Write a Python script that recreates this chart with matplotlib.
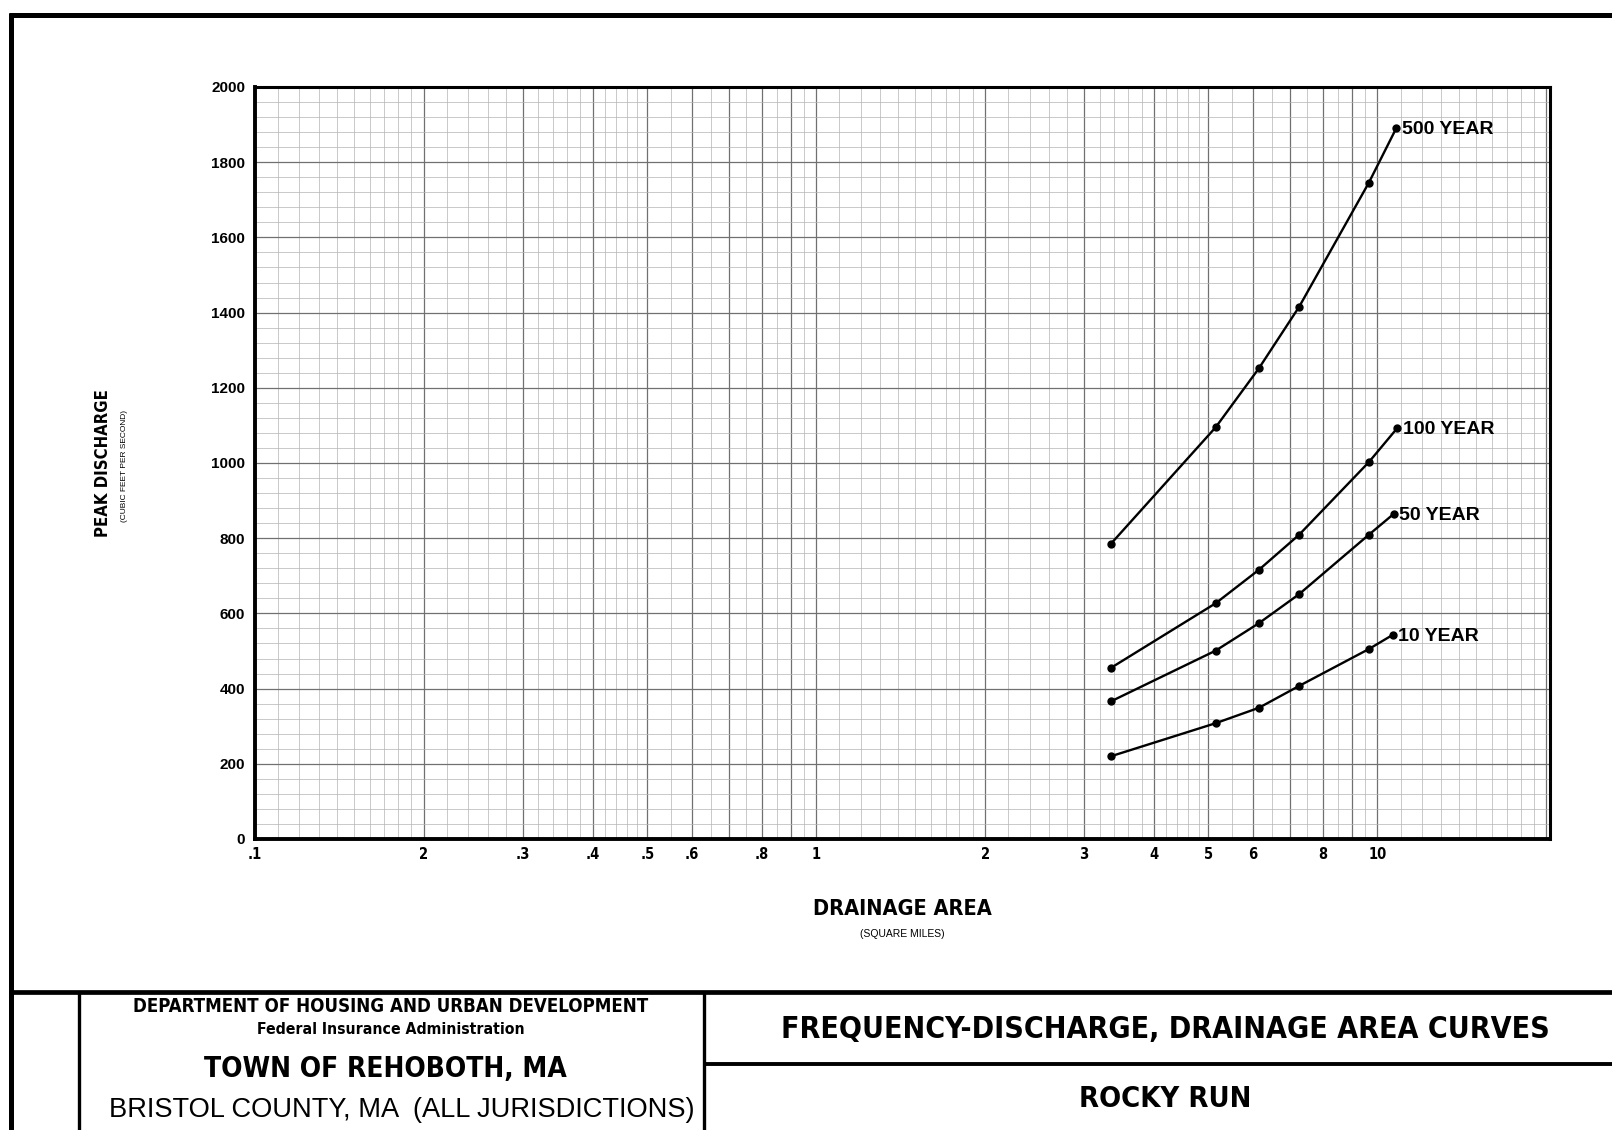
""" Rocky Run frequency-discharge, drainage area curves. """
import numpy as np
import matplotlib
matplotlib.use("Agg")
import matplotlib.pyplot as plt
from matplotlib import font_manager as fm

# drainage area (sq mi) and peak discharge (cfs)
area_500 = [3.35, 5.15, 6.15, 7.25, 9.65, 10.8]
q_500 = [785, 1095, 1252, 1415, 1745, 1890]
area_100 = [3.35, 5.15, 6.15, 7.25, 9.65, 10.85]
q_100 = [455, 627, 716, 809, 1002, 1093]
area_50 = [3.35, 5.15, 6.15, 7.25, 9.65, 10.7]
q_50 = [366, 501, 574, 651, 809, 865]
area_10 = [3.35, 5.15, 6.15, 7.25, 9.65, 10.65]
q_10 = [220, 308, 349, 407, 505, 543]
curve_labels = ["500 YEAR", "100 YEAR", "50 YEAR", "10 YEAR"]

x_ticks = [0.1, 0.2, 0.3, 0.4, 0.5, 0.6, 0.8, 1, 2, 3, 4, 5, 6, 8, 10]
x_tick_labels = [".1", "2", ".3", ".4", ".5", ".6", ".8", "1",
                 "2", "3", "4", "5", "6", "8", "10"]
y_ticks = [0, 200, 400, 600, 800, 1000, 1200, 1400, 1600, 1800, 2000]

W, H = 1612, 1130


def pick_font(candidates, fallback):
    names = {f.name for f in fm.fontManager.ttflist}
    for name in candidates:
        if name in names:
            return name
    return fallback


COND = pick_font(["Liberation Sans Narrow", "DejaVu Sans Condensed"], "DejaVu Sans")
WIDE = pick_font(["Liberation Sans"], "DejaVu Sans")


def fit_width(txt, width_px, renderer):
    bb = txt.get_window_extent(renderer)
    txt.set_fontsize(txt.get_fontsize() * width_px / bb.width)


def main() -> None:
    fig = plt.figure(figsize=(W / 100, H / 100), dpi=100)
    fig.patch.set_facecolor("white")

    # page overlay in pixel coordinates (border, title block, labels)
    ov = fig.add_axes([0, 0, 1, 1], zorder=0)
    ov.set_xlim(0, W)
    ov.set_ylim(H, 0)
    ov.axis("off")

    ax = fig.add_axes([255 / W, 1 - 839 / H, (1550 - 255) / W, (839 - 87) / H], zorder=1)
    ax.set_xscale("log")
    ax.set_xlim(0.1, 20.3)
    ax.set_ylim(0, 2000)

    # log paper grid
    for dec in [0.1, 1, 10]:
        fine = np.concatenate([np.arange(1, 2, 0.1), np.arange(2, 5, 0.2), np.arange(5, 10, 0.5)])
        for m in fine:
            v = dec * m
            if v > 20.3:
                continue
            major = abs(m - round(m)) < 1e-6
            ax.axvline(v, color="#707070" if major else "#b4b4b4",
                       lw=0.9 if major else 0.5, zorder=0)
    for v in range(0, 2001, 40):
        major = v % 200 == 0
        ax.axhline(v, color="#707070" if major else "#b4b4b4",
                   lw=0.9 if major else 0.5, zorder=0)

    series = [(area_500, q_500), (area_100, q_100), (area_50, q_50), (area_10, q_10)]
    for (xs, ys), lab in zip(series, curve_labels):
        ax.plot(xs, ys, "-", color="black", lw=1.7, zorder=3)
        ax.plot(xs, ys, "o", color="black", ms=5, zorder=4)
        ax.annotate(lab, (xs[-1], ys[-1]), xytext=(4, -1), textcoords="offset points",
                    ha="left", va="center", fontsize=14, fontweight="bold",
                    family=[WIDE, "DejaVu Sans"], zorder=5)

    ax.set_xticks(x_ticks)
    ax.set_xticklabels(x_tick_labels)
    ax.xaxis.set_minor_locator(matplotlib.ticker.NullLocator())
    ax.set_yticks(y_ticks)
    ax.set_yticklabels([str(v) for v in y_ticks])
    ax.tick_params(axis="both", length=0)
    ax.tick_params(axis="x", pad=6)
    ax.tick_params(axis="y", pad=7)
    for lab in ax.get_xticklabels():
        lab.set_family([COND, "DejaVu Sans"])
        lab.set_fontstretch("condensed")
        lab.set_fontweight("bold")
        lab.set_fontsize(10.5)
    for lab in ax.get_yticklabels():
        lab.set_family([WIDE, "DejaVu Sans"])
        lab.set_fontweight("bold")
        lab.set_fontsize(11)
    for side in ["left", "bottom"]:
        ax.spines[side].set_linewidth(2.8)
    for side in ["top", "right"]:
        ax.spines[side].set_linewidth(2.2)

    renderer = fig.canvas.get_renderer()

    # axis titles
    t = ov.text(902, 909, "DRAINAGE AREA", ha="center", va="center", fontstretch="condensed",
                fontweight="bold", family=[COND, "DejaVu Sans"], fontsize=12)
    fit_width(t, 180, renderer)
    ov.text(902, 934, "(SQUARE MILES)", ha="center", va="center",
            family=[WIDE, "DejaVu Sans"], fontsize=7.5)
    ov.text(103, 463, "PEAK DISCHARGE", ha="center", va="center", rotation=90,
            fontstretch="condensed", fontweight="bold", family=[COND, "DejaVu Sans"], fontsize=12)
    ov.text(124, 466, "(CUBIC FEET PER SECOND)", ha="center", va="center", rotation=90,
            family=[WIDE, "DejaVu Sans"], fontsize=6)

    # page border and title block
    k = dict(color="black", solid_capstyle="butt")
    ov.plot([9, W], [15, 15], lw=3.6, **k)
    ov.plot([11, 11], [13, H], lw=3.6, **k)
    ov.plot([11, W], [992, 992], lw=3.4, **k)
    ov.plot([79, 79], [992, H], lw=2.4, **k)
    ov.plot([704, 704], [992, H], lw=2.4, **k)
    ov.plot([704, W], [1064, 1064], lw=2.8, **k)

    blocks = [
        (391, 1007, "DEPARTMENT OF HOUSING AND URBAN DEVELOPMENT", "bold", COND, 520),
        (391, 1029, "Federal Insurance Administration", "bold", COND, 270),
        (385, 1069, "TOWN OF REHOBOTH, MA", "bold", COND, 364),
        (402, 1110, "BRISTOL COUNTY, MA  (ALL JURISDICTIONS)", "normal", WIDE, 588),
        (1165, 1029, "FREQUENCY-DISCHARGE, DRAINAGE AREA CURVES", "bold", COND, 772),
        (1165, 1099, "ROCKY RUN", "bold", COND, 173),
    ]
    for x, y, s, w, fam, width in blocks:
        t = ov.text(x, y, s, ha="center", va="center", fontweight=w,
                    fontstretch="condensed" if fam == COND else "normal",
                    family=[fam, "DejaVu Sans"], fontsize=14)
        fit_width(t, width, renderer)

    fig.savefig("out.png", dpi=100)
    plt.close(fig)


if __name__ == "__main__":
    main()
